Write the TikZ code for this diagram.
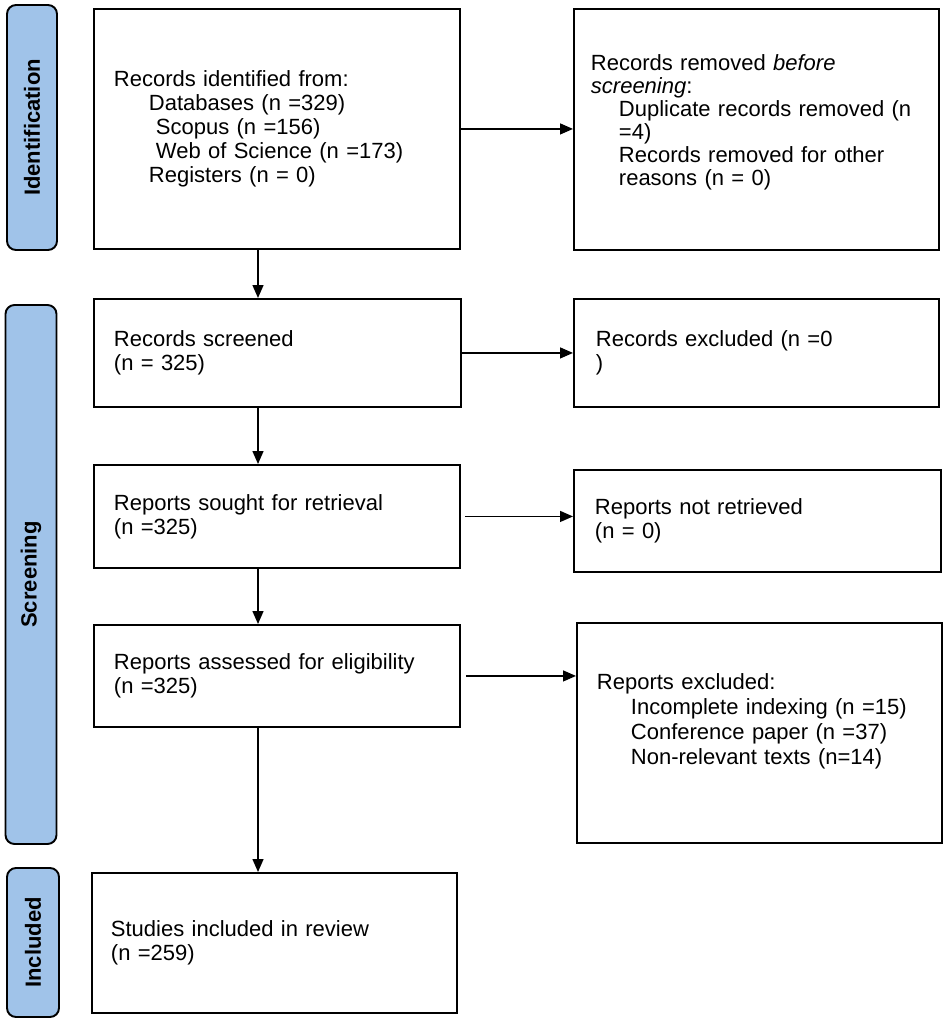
\documentclass[tikz,border=0pt]{standalone}
\usepackage{fontspec}
\setmainfont{Liberation Sans}
\usetikzlibrary{arrows.meta}
\definecolor{sideblue}{RGB}{160,195,233}
\begin{document}
\begin{tikzpicture}[x=1pt,y=-1pt,
  box/.style={draw, line width=1.9pt, rectangle, anchor=north west, align=left,
    inner ysep=0pt, font=\fontsize{22}{24}\selectfont},
  side/.style={draw, line width=1.9pt, rounded corners=9pt, fill=sideblue, rotate=90,
    inner sep=0pt, font=\bfseries\fontsize{22}{24}\selectfont},
  arr/.style={-{Triangle[length=13pt,width=11pt]}, line width=1.4pt}]
\useasboundingbox (0,0) rectangle (946,1022);

% side labels
\node[side, minimum width=245pt, minimum height=50pt] (s1) at (32,127.5) {Identification};
\node[side, minimum width=539pt, minimum height=51pt] (s2) at (31,574.5) {Screening};
\node[side, minimum width=149pt, minimum height=52pt] (s3) at (33,942.5) {Included};

% boxes
\node[box, inner xsep=20pt, text width=326pt, minimum height=240pt] (b1) at (93,8)
  {Records identified from:\\
   \hspace*{35pt}Databases (n =329)\\
   \hspace*{42pt}Scopus (n =156)\\
   \hspace*{42pt}Web of Science (n =173)\\
   \hspace*{35pt}Registers (n = 0)};
\node[box, inner xsep=17pt, text width=331pt, minimum height=241pt,
  font=\fontsize{22}{23}\selectfont] (b2) at (573,8)
  {Records removed \textit{before}\\
   \textit{screening}:\\
   \hspace*{28pt}Duplicate records removed (n\\
   \hspace*{28pt}=4)\\
   \hspace*{28pt}Records removed for other\\
   \hspace*{28pt}reasons (n = 0)\rule[-19pt]{0pt}{0pt}};
\node[box, inner xsep=20pt, text width=327pt, minimum height=108pt] (b3) at (93,298)
  {Records screened\\(n = 325)};
\node[box, inner xsep=22pt, text width=321pt, minimum height=108pt] (b4) at (573,298)
  {Records excluded (n =0\\)};
\node[box, inner xsep=20pt, text width=326pt, minimum height=103pt] (b5) at (93,464)
  {Reports sought for retrieval\\(n =325)};
\node[box, inner xsep=21pt, text width=325pt, minimum height=102pt] (b6) at (573,469)
  {Reports not retrieved\\(n = 0)};
\node[box, inner xsep=20pt, text width=326pt, minimum height=102pt] (b7) at (93,624)
  {Reports assessed for eligibility\\(n =325)};
\node[box, inner xsep=20pt, text width=325pt, minimum height=220pt,
  font=\fontsize{22}{25}\selectfont] (b8) at (576,622)
  {Reports excluded:\\
   \hspace*{34pt}Incomplete indexing (n =15)\\
   \hspace*{34pt}Conference paper (n =37)\\
   \hspace*{34pt}Non-relevant texts (n=14)\rule[-28pt]{0pt}{0pt}};
\node[box, inner xsep=19pt, text width=327pt, minimum height=140pt] (b9) at (91,872)
  {Studies included in review\\(n =259)};

% connectors
\coordinate (col) at (258,0);
\draw[arr] (b1.south -| col) -- (b3.north -| col);
\draw[arr] (b3.south -| col) -- (b5.north -| col);
\draw[arr] (b5.south -| col) -- (b7.north -| col);
\draw[arr] (b7.south -| col) -- (b9.north -| col);

\draw[arr] (b1.east) -- (b1.east -| b2.west);
\draw[arr] (b3.east) -- (b3.east -| b4.west);
\draw[arr] ([xshift=4pt]b5.east) -- (b5.east -| b6.west);
\draw[arr] ([xshift=5pt]b7.east) -- (b7.east -| b8.west);
\end{tikzpicture}
\end{document}
